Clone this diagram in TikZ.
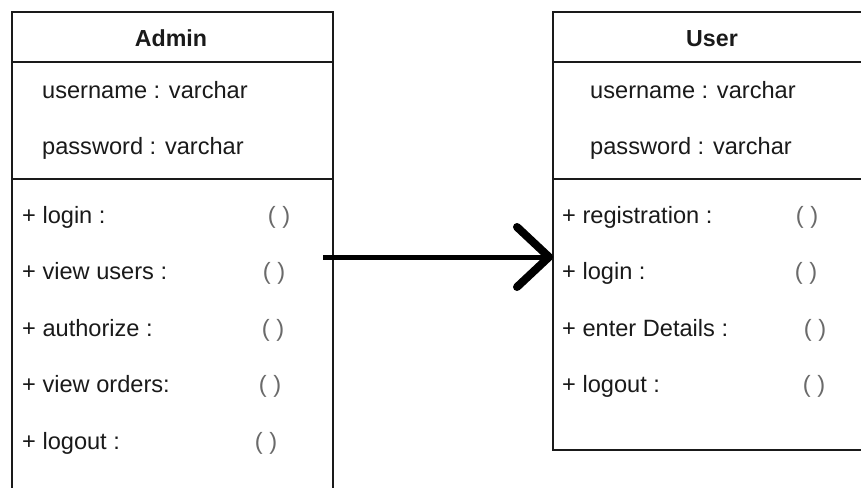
\documentclass[tikz,border=0pt]{standalone}
\usepackage{fontspec}
\setmainfont{Liberation Sans}
\usetikzlibrary{arrows.meta}
\definecolor{ink}{HTML}{1A1A1A}
\definecolor{soft}{HTML}{6A6A6A}
\tikzset{
  classbox/.style={draw=ink, line width=1.6pt, fill=white, rectangle, inner sep=0pt, anchor=north west},
  sep/.style={draw=ink, line width=1.6pt},
  lbl/.style={anchor=base west, inner sep=0pt, text=ink, font=\fontsize{23.6}{27}\selectfont},
  ttl/.style={anchor=base, inner sep=0pt, text=ink, font=\fontsize{23.2}{27}\selectfont\bfseries},
  par/.style={anchor=base, inner sep=0pt, text=soft, font=\fontsize{23.6}{27}\selectfont},
  assoc/.style={draw=black, line width=5pt, -{Straight Barb[length=32pt, width=60pt, line width'=8pt, line cap=round, line join=round]}}
}
\begin{document}
\begin{tikzpicture}[x=1pt,y=-1pt]
\useasboundingbox (0,0) rectangle (861,487);
\fill[white] (0,0) rectangle (861,487);
\clip (0,0) rectangle (861,487);

% Admin class
\node[classbox, minimum width=321pt, minimum height=540pt] (admin) at (11,11) {};
\draw[sep] (admin.west |- 0,62) -- (admin.east |- 0,62);
\draw[sep] (admin.west |- 0,179) -- (admin.east |- 0,179);
\node[ttl] (atitle) at (171,47) {Admin};
\node[lbl] (auser) at (42,98) {username : varchar};
\node[lbl] (apass) at (42,154) {password : varchar};
\node[lbl] (am1) at (22,223) {+ login :};
\node[lbl] (am2) at (22,279.5) {+ view users :};
\node[lbl] (am3) at (22,336) {+ authorize :};
\node[lbl] (am4) at (22,392.5) {+ view orders:};
\node[lbl] (am5) at (22,449) {+ logout :};
\node[par] (ap1) at (279,223) {( )};
\node[par] (ap2) at (274,279.5) {( )};
\node[par] (ap3) at (273,336) {( )};
\node[par] (ap4) at (270,392.5) {( )};
\node[par] (ap5) at (266,449) {( )};

% User class
\node[classbox, minimum width=321pt, minimum height=438pt] (user) at (552,11) {};
\draw[sep] (user.west |- 0,62) -- (user.east |- 0,62);
\draw[sep] (user.west |- 0,179) -- (user.east |- 0,179);
\node[ttl] (utitle) at (712,47) {User};
\node[lbl] (uuser) at (590,98) {username : varchar};
\node[lbl] (upass) at (590,154) {password : varchar};
\node[lbl] (um1) at (562,223) {+ registration :};
\node[lbl] (um2) at (562,279.5) {+ login :};
\node[lbl] (um3) at (562,336) {+ enter Details :};
\node[lbl] (um4) at (562,392.5) {+ logout :};
\node[par] (up1) at (807,223) {( )};
\node[par] (up2) at (806,279.5) {( )};
\node[par] (up3) at (815,336) {( )};
\node[par] (up4) at (814,392.5) {( )};

% association arrow
\coordinate (arrstart) at (323,257);
\draw[assoc] (arrstart) -- ([xshift=1pt]arrstart -| user.west);
\end{tikzpicture}
\end{document}
